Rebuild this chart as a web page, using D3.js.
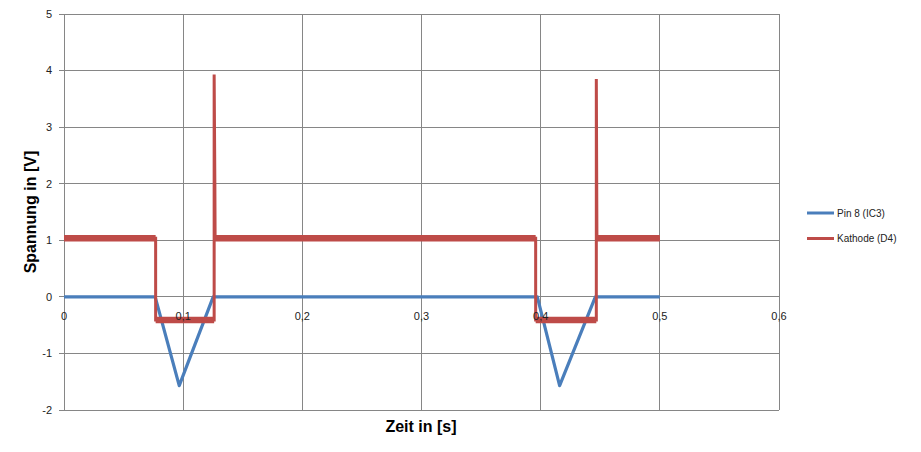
<!DOCTYPE html>
<html><head><meta charset="utf-8">
<script src="https://cdn.jsdelivr.net/npm/d3@7"></script>
<style>body{margin:0;background:#fff}svg{display:block}</style>
</head><body><svg id="c" width="921" height="452"></svg>
<script>
const xTicks = [0, 0.1, 0.2, 0.3, 0.4, 0.5, 0.6];
const yTicks = [-2, -1, 0, 1, 2, 3, 4, 5];
const seriesNames = ["Pin 8 (IC3)", "Kathode (D4)"];
const seriesColors = ["#4a7ebb", "#be4b48"];
const pinTime  = [0, 0.0765, 0.0967, 0.1252, 0.3972, 0.4159, 0.4459, 0.5];
const pinValue = [0, 0, -1.57, 0, 0, -1.57, 0, 0];
const katTime  = [0, 0.0769, 0.0769, 0.1260, 0.1260, 0.1266, 0.1268, 0.3958, 0.3958, 0.4467, 0.4467, 0.4472, 0.5];
const katValue = [1.035, 1.035, -0.41, -0.41, 3.93, 2.0, 1.035, 1.035, -0.41, -0.41, 3.85, 1.035, 1.035];

const svg = d3.select("#c");
const L = 64, R = 779, T = 14, B = 410;
const x = d3.scaleLinear().domain([0, 0.6]).range([L, R]);
const y = d3.scaleLinear().domain([-2, 5]).range([B, T]);
const font = "'Liberation Sans', Arial, sans-serif";
const grid = "#868686";

// gridlines
svg.append("g").selectAll("line").data(yTicks).join("line")
  .attr("x1", L - 5).attr("x2", R).attr("y1", d => y(d)).attr("y2", d => y(d))
  .attr("stroke", grid).attr("stroke-width", 1).attr("shape-rendering", "crispEdges");
svg.append("g").selectAll("line").data(xTicks).join("line")
  .attr("x1", d => x(d)).attr("x2", d => x(d)).attr("y1", T).attr("y2", B)
  .attr("stroke", grid).attr("stroke-width", 1).attr("shape-rendering", "crispEdges");
svg.append("g").selectAll("line").data(xTicks).join("line")
  .attr("x1", d => x(d)).attr("x2", d => x(d)).attr("y1", y(0)).attr("y2", y(0) + 5)
  .attr("stroke", grid).attr("shape-rendering", "crispEdges");

const line = d3.line().x(d => x(d[0])).y(d => y(d[1]));
const pinData = pinTime.map((t, i) => [t, pinValue[i]]);
const katData = katTime.map((t, i) => [t, katValue[i]]);

svg.append("path").attr("d", line(pinData)).attr("fill", "none")
  .attr("stroke", seriesColors[0]).attr("stroke-width", 3.2).attr("stroke-linejoin", "round");
svg.append("path").attr("d", line(katData)).attr("fill", "none")
  .attr("stroke", seriesColors[1]).attr("stroke-width", 3).attr("stroke-linejoin", "miter");
// noisy flat stretches of the Kathode trace appear as a thicker band
const flats = katData.slice(1).map((p, i) => [katData[i], p]).filter(s => s[0][1] === s[1][1]);
svg.append("g").selectAll("path").data(flats).join("path")
  .attr("d", s => line(s)).attr("fill", "none")
  .attr("stroke", seriesColors[1]).attr("stroke-width", 6.5).attr("stroke-linecap", "butt");

// y tick labels
svg.append("g").selectAll("text").data(yTicks).join("text")
  .attr("x", 52).attr("y", d => y(d)).attr("dy", "0.35em").attr("text-anchor", "end")
  .attr("font-family", font).attr("font-size", 11).attr("fill", "#222").text(d => d);
// x tick labels
const fmt = d => String(d).replace(".", ",");
svg.append("g").selectAll("text").data(xTicks).join("text")
  .attr("x", d => x(d)).attr("y", y(0) + 23).attr("text-anchor", "middle")
  .attr("font-family", font).attr("font-size", 11).attr("fill", "#222").text(fmt);

// axis titles
svg.append("text").attr("transform", "translate(36,212) rotate(-90)").attr("text-anchor", "middle")
  .attr("font-family", font).attr("font-size", 16).attr("font-weight", "bold").attr("fill", "#000")
  .text("Spannung in [V]");
svg.append("text").attr("x", 421).attr("y", 432).attr("text-anchor", "middle")
  .attr("font-family", font).attr("font-size", 16).attr("font-weight", "bold").attr("fill", "#000")
  .text("Zeit in [s]");

// legend
const lg = svg.append("g").selectAll("g").data(seriesNames).join("g")
  .attr("transform", (d, i) => `translate(807,${213 + i * 25.5})`);
lg.append("line").attr("x1", 0).attr("x2", 27).attr("y1", 0).attr("y2", 0)
  .attr("stroke", (d, i) => seriesColors[i]).attr("stroke-width", 3);
lg.append("text").attr("x", 30).attr("y", 0).attr("dy", "0.35em")
  .attr("font-family", font).attr("font-size", 10).attr("fill", "#222").text(d => d);
</script></body></html>
